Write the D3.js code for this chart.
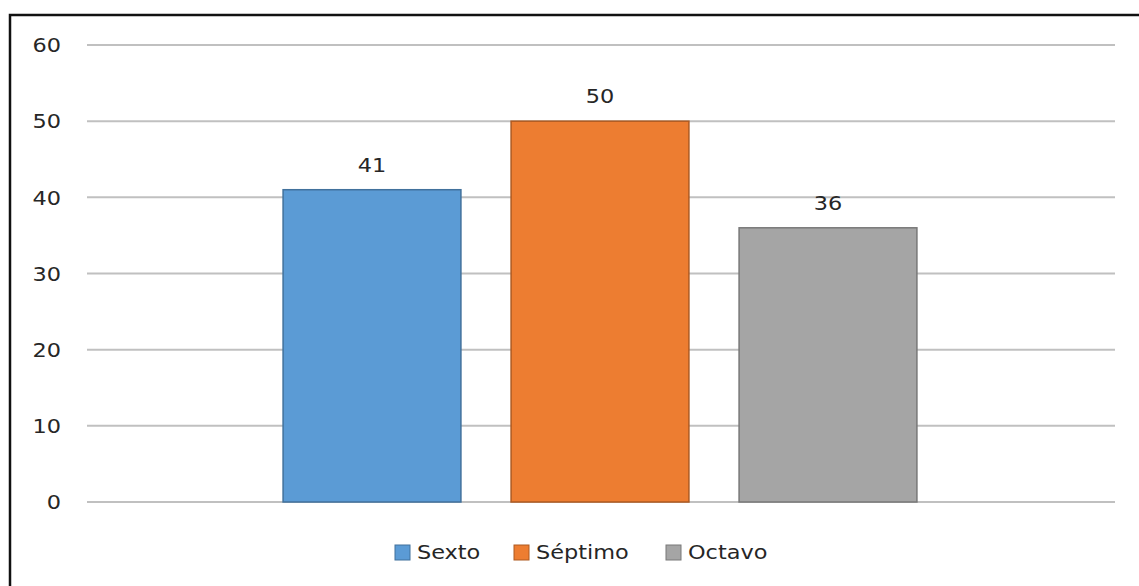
<!DOCTYPE html>
<html>
<head>
<meta charset="utf-8">
<script src="https://cdn.jsdelivr.net/npm/d3@7"></script>
<style>
  body { margin: 0; background: #fff; }
  text { font-family: "DejaVu Sans", sans-serif; fill: #262626; font-size: 20px; }
</style>
</head>
<body>
<div id="chart"></div>
<script>
var series = ["Sexto", "Séptimo", "Octavo"];
var values = [41, 50, 36];
var ticks = [0, 10, 20, 30, 40, 50, 60];

var fills = ["#5b9bd5", "#ed7d31", "#a5a5a5"],
    strokes = ["#41719c", "#ae5a21", "#787878"];

var w = 1139,
    h = 586,
    m = [45, 24, 84, 87], // top right bottom left
    sx = 1.12; // text in the picture is a bit stretched sideways

var svg = d3.select("#chart").append("svg")
    .attr("width", w)
    .attr("height", h);

// outer frame
svg.append("rect")
    .attr("x", 10).attr("y", 15)
    .attr("width", w + 20).attr("height", h + 20)
    .attr("fill", "none")
    .attr("stroke", "#111")
    .attr("stroke-width", 2.5);

var y = d3.scaleLinear()
    .domain([0, 60])
    .range([h - m[2], m[0]]);

var x = d3.scaleBand()
    .domain(series)
    .range([258, 942])
    .paddingInner(0.22)
    .paddingOuter(0.11);

function place(px, py) {
  return "translate(" + px + "," + py + ") scale(" + sx + ",1)";
}

// grid
svg.append("g").selectAll("line")
    .data(ticks)
  .enter().append("line")
    .attr("x1", m[3]).attr("x2", w - m[1])
    .attr("y1", function(d) { return y(d); })
    .attr("y2", function(d) { return y(d); })
    .attr("stroke", "#c0c0c0")
    .attr("stroke-width", 2);

svg.append("g").selectAll("text")
    .data(ticks)
  .enter().append("text")
    .attr("transform", function(d) { return place(61, y(d)); })
    .attr("dy", "0.36em")
    .attr("text-anchor", "end")
    .text(function(d) { return d; });

// bars
svg.append("g").selectAll("rect")
    .data(values)
  .enter().append("rect")
    .attr("x", function(d, i) { return x(series[i]); })
    .attr("y", function(d) { return y(d); })
    .attr("width", x.bandwidth())
    .attr("height", function(d) { return y(0) - y(d); })
    .attr("fill", function(d, i) { return fills[i]; })
    .attr("stroke", function(d, i) { return strokes[i]; })
    .attr("stroke-width", 1.5);

svg.append("g").selectAll("text")
    .data(values)
  .enter().append("text")
    .attr("transform", function(d, i) { return place(x(series[i]) + x.bandwidth() / 2, y(d) - 25); })
    .attr("dy", "0.36em")
    .attr("text-anchor", "middle")
    .text(function(d) { return d; });

// legend
var legX = [395, 514, 666];
var leg = svg.append("g").selectAll("g")
    .data(series)
  .enter().append("g")
    .attr("transform", function(d, i) { return "translate(" + legX[i] + ",552)"; });

leg.append("rect")
    .attr("x", 0).attr("y", -7)
    .attr("width", 15).attr("height", 15)
    .attr("fill", function(d, i) { return fills[i]; })
    .attr("stroke", function(d, i) { return strokes[i]; })
    .attr("stroke-width", 1);

leg.append("text")
    .attr("transform", place(22, 0))
    .attr("dy", "0.36em")
    .text(function(d) { return d; });
</script>
</body>
</html>
